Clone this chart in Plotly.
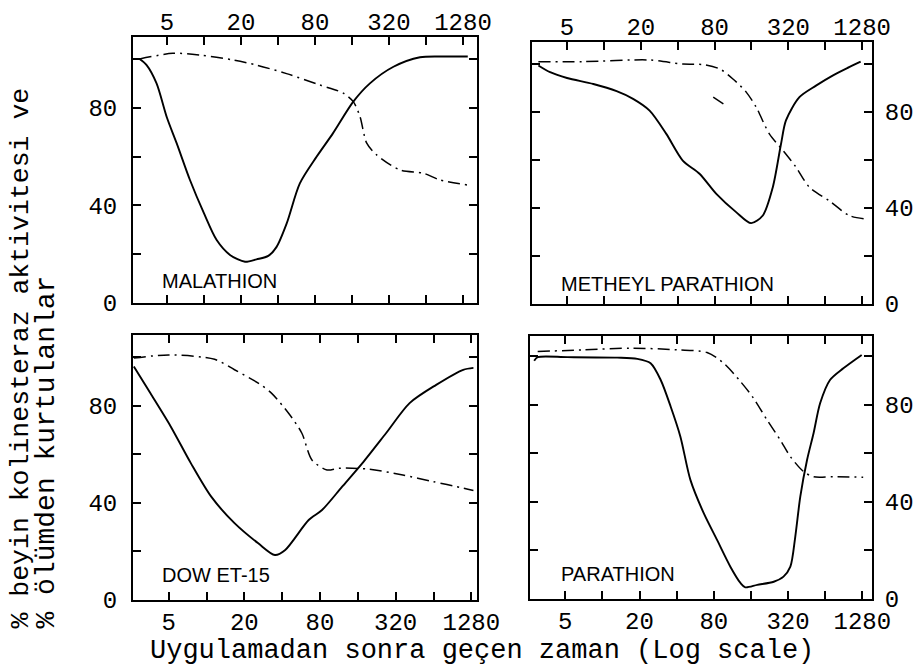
import plotly.graph_objects as go
import math

# ---------------- data ----------------
tick_vals_x = [5, 10, 20, 40, 80, 160, 320, 640, 1280]
tick_text_x = ['5', '', '20', '', '80', '', '320', '', '1280']
tick_vals_y = [0, 20, 40, 60, 80, 100]
tick_text_y = ['0', '', '40', '', '80', '']

panel_names = ["MALATHION", "METHEYL PARATHION", "DOW ET-15", "PARATHION"]

# MALATHION
mal_x_act = [3.0, 3.42, 4.12, 5, 6.0, 7.7, 10, 12.7, 16.3, 21.6, 26.8, 33.4, 39, 47.2, 60.3, 82.7, 112, 164, 224, 348, 572, 900, 1400]
mal_y_act = [100, 97.5, 90, 76, 65.5, 50.4, 36.8, 25.8, 19.7, 16.9, 17.9, 19.3, 23, 32.7, 49, 60, 69.5, 82.5, 90, 96.8, 100.7, 101, 101]
mal_x_surv = [3.0, 5.6, 9.3, 17.3, 26.8, 47, 88, 136, 164, 186, 211, 254, 394, 609, 833, 1380]
mal_y_surv = [100, 102.3, 101.6, 99.6, 97.5, 94, 89.3, 86, 82.5, 76.4, 65.5, 60.7, 54.5, 53.2, 50.4, 48.4]

# METHEYL PARATHION
met_x_act = [2.92, 3.64, 5, 8.2, 12.7, 17.3, 23.6, 32.3, 44, 60.3, 82.7, 120, 159, 198, 239, 279, 306, 394, 538, 735, 1003, 1245]
met_y_act = [99.4, 96.6, 94.2, 91.7, 88.7, 85.5, 80.6, 70.9, 59.8, 54.3, 45.9, 38.3, 33.7, 36.9, 48.7, 66.8, 76.5, 86.2, 91, 95.2, 98.7, 101]
met_x_surv = [2.92, 6.8, 23.6, 44, 64, 88, 113, 145, 175, 224, 289, 370, 475, 690, 1003, 1327]
met_y_surv = [101, 101, 101.7, 100, 99.8, 98, 93.8, 88.3, 82, 70.9, 64, 57, 48.7, 43, 36.9, 35.5]
met_x_extra = [78, 94.4]
met_y_extra = [86.2, 83.4]

# DOW ET-15
dow_x_act = [2.64, 3.58, 5.2, 7.5, 10.9, 16.7, 25.8, 35, 42.3, 65, 83, 120, 174, 268, 413, 672, 1103, 1330]
dow_y_act = [96, 85, 71.3, 56.3, 42.5, 31.6, 23.3, 18.5, 20.6, 32.9, 37, 46.6, 56.3, 68.6, 81, 88.5, 94.7, 95.5]
dow_x_surv = [2.64, 5, 11.6, 16.7, 25.8, 33, 45, 57.4, 69, 91, 113, 197, 365, 635, 1103, 1330]
dow_y_surv = [99.5, 100.8, 99, 94.7, 89.2, 85, 76.8, 68.6, 57.6, 53.5, 54.2, 53.8, 51.4, 48.7, 46, 45]

# PARATHION
par_x_act = [2.8, 2.99, 5.2, 13.2, 19.2, 24.6, 29.7, 35.8, 42.9, 51.7, 66.3, 85, 109, 132, 144, 180, 245, 294, 334, 366, 402, 456, 515, 582, 700, 898, 1265]
par_y_act = [98, 99.5, 99.5, 99.3, 98.8, 97, 90.1, 79.1, 66.8, 49, 35.3, 24.3, 13.3, 6.5, 4.8, 5.8, 7.1, 9.2, 13.3, 25.6, 42.1, 57.2, 68.2, 80.5, 90.1, 94.9, 100.4]
par_x_surv = [2.99, 7.1, 17, 40.5, 70.6, 96.4, 132, 168, 216, 277, 334, 428, 515, 745, 1300]
par_y_surv = [101.8, 102.5, 103.2, 102.5, 101.4, 97, 89.4, 82.6, 73.7, 65.4, 58.6, 52.4, 50.3, 50.3, 50.1]

x_title = "Uygulamadan sonra geçen zaman (Log scale)"
y_title_1 = "% beyin kolinesteraz aktivitesi ve"
y_title_2 = "% ölümden kurtulanlar"

# ---------------- layout geometry ----------------
W, H = 913, 668
# pixel boxes: (left, right, top, bottom)
boxes = [(133, 477, 37, 303), (532, 872, 42, 304), (133, 477, 335, 600), (530, 872, 336, 599)]
x_ranges = [(2.65, 1664), (2.59, 1541), (2.6, 1420), (2.59, 1533)]
y_tops = [109, 109.2, 109, 108.2]

fig = go.Figure()

act_x = [mal_x_act, met_x_act, dow_x_act, par_x_act]
act_y = [mal_y_act, met_y_act, dow_y_act, par_y_act]
surv_x = [mal_x_surv, met_x_surv, dow_x_surv, par_x_surv]
surv_y = [mal_y_surv, met_y_surv, dow_y_surv, par_y_surv]

dashdot = "12px,5px,2px,5px"

for i in range(4):
    xa = 'x' if i == 0 else f'x{i+1}'
    ya = 'y' if i == 0 else f'y{i+1}'
    fig.add_trace(go.Scatter(x=surv_x[i], y=surv_y[i], mode='lines', xaxis=xa, yaxis=ya,
                             line=dict(color='black', width=1.5, dash=dashdot, shape='spline', smoothing=0.8),
                             showlegend=False, hoverinfo='skip'))
    fig.add_trace(go.Scatter(x=act_x[i], y=act_y[i], mode='lines', xaxis=xa, yaxis=ya,
                             line=dict(color='black', width=1.9, shape='spline', smoothing=0.8),
                             showlegend=False, hoverinfo='skip'))
    if i == 1:
        fig.add_trace(go.Scatter(x=met_x_extra, y=met_y_extra, mode='lines', xaxis=xa, yaxis=ya,
                                 line=dict(color='black', width=1.5),
                                 showlegend=False, hoverinfo='skip'))

tick_font = dict(family="Liberation Mono", size=24, color='black')
layout = dict(width=W, height=H, margin=dict(l=0, r=0, t=0, b=0, autoexpand=False),
              paper_bgcolor='white', plot_bgcolor='white', showlegend=False)

for i in range(4):
    l, r, t, b = boxes[i]
    xk = 'xaxis' if i == 0 else f'xaxis{i+1}'
    yk = 'yaxis' if i == 0 else f'yaxis{i+1}'
    xa = 'x' if i == 0 else f'x{i+1}'
    ya = 'y' if i == 0 else f'y{i+1}'
    layout[xk] = dict(type='log', domain=[l / W, r / W],
                      range=[math.log10(x_ranges[i][0]), math.log10(x_ranges[i][1])],
                      anchor=ya, side='top' if i < 2 else 'bottom', automargin=False,
                      tickmode='array', tickvals=tick_vals_x, ticktext=tick_text_x,
                      ticks='inside', ticklen=8, tickwidth=1.5, tickcolor='black',
                      showline=True, linecolor='black', linewidth=2, mirror='allticks',
                      showgrid=False, zeroline=False, tickfont=tick_font,
                      ticklabelstandoff=-5 if i < 2 else -1)
    layout[yk] = dict(domain=[1 - b / H, 1 - t / H], range=[0, y_tops[i]],
                      anchor=xa, side='left' if i % 2 == 0 else 'right', automargin=False,
                      tickmode='array', tickvals=tick_vals_y, ticktext=tick_text_y,
                      ticks='inside', ticklen=8, tickwidth=1.5, tickcolor='black',
                      showline=True, linecolor='black', linewidth=2, mirror='allticks',
                      showgrid=False, zeroline=False, tickfont=tick_font,
                      ticklabelstandoff=9 if i % 2 == 0 else 6)

annotations = []
label_pos = [(0.078, 0.035), (0.079, 0.027), (0.078, 0.045), (0.085, 0.045)]
for i in range(4):
    xa = 'x' if i == 0 else f'x{i+1}'
    ya = 'y' if i == 0 else f'y{i+1}'
    annotations.append(dict(text=panel_names[i], xref=f'{xa} domain', yref=f'{ya} domain',
                            x=label_pos[i][0], y=label_pos[i][1], xanchor='left', yanchor='bottom',
                            showarrow=False, font=dict(family="Liberation Sans", size=20, color='black')))

annotations.append(dict(text=x_title, xref='paper', yref='paper', x=482 / W, y=1 - 651 / H,
                        xanchor='center', yanchor='middle', showarrow=False,
                        font=dict(family="Liberation Mono", size=27, color='black')))
annotations.append(dict(text=y_title_1, xref='paper', yref='paper', x=20 / W, y=1 - 631 / H,
                        xanchor='center', yanchor='bottom', textangle=-90, showarrow=False,
                        font=dict(family="Liberation Mono", size=26.5, color='black')))
annotations.append(dict(text=y_title_2, xref='paper', yref='paper', x=46 / W, y=1 - 631 / H,
                        xanchor='center', yanchor='bottom', textangle=-90, showarrow=False,
                        font=dict(family="Liberation Mono", size=28, color='black')))
layout['annotations'] = annotations

fig.update_layout(**layout)
fig.write_html("out.html", config={'displayModeBar': False},
               post_script="document.body.style.margin='0px';document.body.style.overflow='hidden';")
